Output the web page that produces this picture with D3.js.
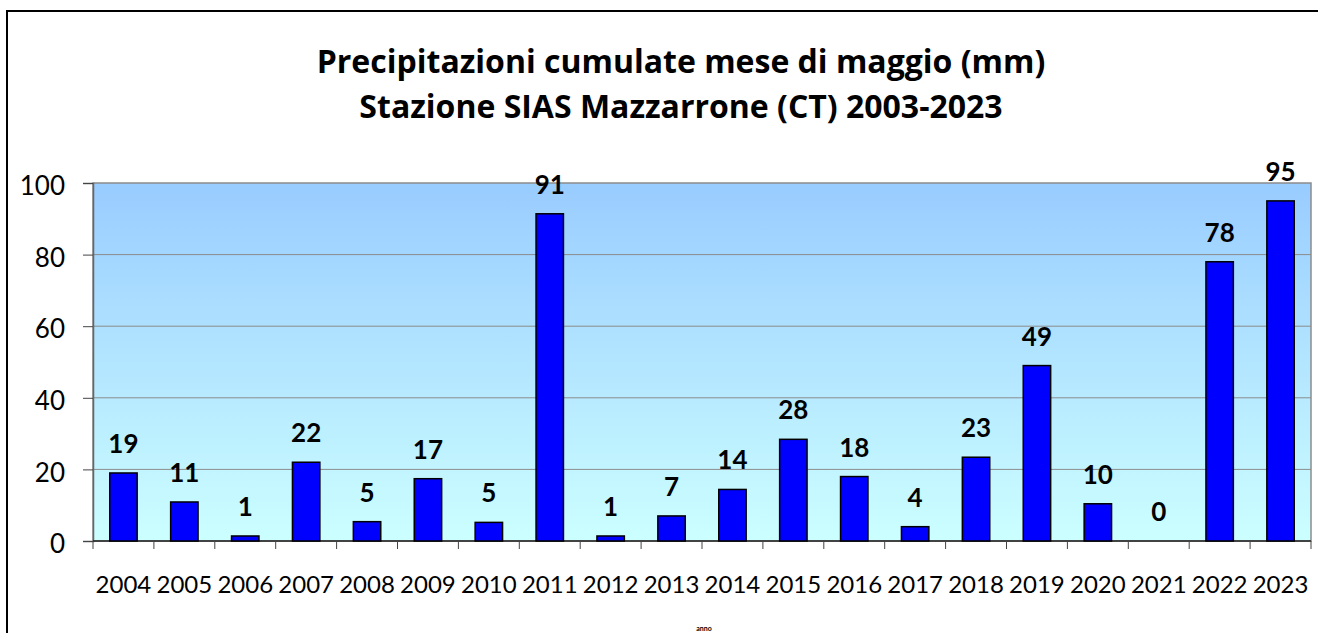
<!DOCTYPE html>
<html lang="it">
<head>
    <meta charset="utf-8">
    <title>Precipitazioni cumulate mese di maggio</title>
    <script src="https://d3js.org/d3.v7.min.js"></script>
    <style>
        body { margin: 0; background: #fff; }
        text { font-family: Lato, "Open Sans", sans-serif; }
    </style>
</head>
<body>
    <div id="chart"></div>
    <script>
        // Data
        const years = ["2004", "2005", "2006", "2007", "2008", "2009", "2010", "2011", "2012", "2013",
            "2014", "2015", "2016", "2017", "2018", "2019", "2020", "2021", "2022", "2023"];
        const values = [19, 10.9, 1.4, 22, 5.4, 17.4, 5.2, 91.4, 1.4, 7, 14.4, 28.4, 18, 4, 23.4, 49, 10.4, 0, 78, 95];
        const yTicks = [0, 20, 40, 60, 80, 100];
        const titleLines = ["Precipitazioni cumulate mese di maggio (mm)", "Stazione SIAS Mazzarrone (CT) 2003-2023"];

        const width = 1318, height = 633;
        const plot = { left: 93, right: 1311, top: 183, bottom: 541 };

        const svg = d3.select("#chart")
            .append("svg")
            .attr("width", width)
            .attr("height", height);

        // Gradient background
        const grad = svg.append("defs")
            .append("linearGradient")
            .attr("id", "bg")
            .attr("x1", 0).attr("y1", 0)
            .attr("x2", 0).attr("y2", 1);
        grad.append("stop").attr("offset", "0%").attr("stop-color", "#99ccff");
        grad.append("stop").attr("offset", "100%").attr("stop-color", "#ccffff");

        // Outer frame
        svg.append("rect")
            .attr("x", 7)
            .attr("y", 11)
            .attr("width", 1400)
            .attr("height", 700)
            .attr("fill", "none")
            .attr("stroke", "#000")
            .attr("stroke-width", 2);

        // Title
        svg.selectAll("text.title")
            .data(titleLines)
            .enter()
            .append("text")
            .attr("class", "title")
            .attr("x", 681)
            .attr("y", (d, i) => 73 + i * 45)
            .attr("text-anchor", "middle")
            .attr("font-weight", "bold")
            .style("font-family", "'Open Sans', sans-serif")
            .style("font-size", "32px")
            .text(d => d);

        // Scales
        const x = d3.scaleBand()
            .domain(years)
            .range([plot.left, plot.right])
            .paddingInner(0.55)
            .paddingOuter(0.275);

        const y = d3.scaleLinear()
            .domain([0, 100])
            .range([plot.bottom, plot.top]);

        // Plot area
        svg.append("rect")
            .attr("x", plot.left)
            .attr("y", plot.top)
            .attr("width", plot.right - plot.left)
            .attr("height", plot.bottom - plot.top)
            .attr("fill", "url(#bg)")
            .attr("stroke", "#8c8c8c")
            .attr("stroke-width", 1.5);

        // Gridlines
        svg.selectAll("line.grid")
            .data(yTicks.filter(d => d > 0 && d < 100))
            .enter()
            .append("line")
            .attr("class", "grid")
            .attr("x1", plot.left)
            .attr("x2", plot.right)
            .attr("y1", d => y(d))
            .attr("y2", d => y(d))
            .attr("stroke", "#8c8c8c")
            .attr("stroke-width", 1);

        // Y axis
        const yAxis = svg.append("g")
            .attr("transform", `translate(${plot.left},0)`)
            .call(d3.axisLeft(y).tickValues(yTicks).tickSize(10).tickPadding(18));
        yAxis.select(".domain").attr("stroke", "#666").attr("stroke-width", 1.5);
        yAxis.selectAll(".tick line").attr("stroke", "#444");
        yAxis.selectAll(".tick text")
            .attr("fill", "#000")
            .attr("dy", "0.45em")
            .style("font-size", "26px")
            .style("font-family", "Lato, sans-serif");

        // X axis
        svg.append("line")
            .attr("x1", plot.left)
            .attr("x2", plot.right)
            .attr("y1", plot.bottom)
            .attr("y2", plot.bottom)
            .attr("stroke", "#222")
            .attr("stroke-width", 1.5);
        svg.selectAll("line.xtick")
            .data(d3.range(years.length + 1))
            .enter()
            .append("line")
            .attr("class", "xtick")
            .attr("x1", i => plot.left + i * x.step())
            .attr("x2", i => plot.left + i * x.step())
            .attr("y1", plot.bottom)
            .attr("y2", plot.bottom + 8)
            .attr("stroke", "#444");
        svg.selectAll("text.xlabel")
            .data(years)
            .enter()
            .append("text")
            .attr("class", "xlabel")
            .attr("x", d => x(d) + x.bandwidth() / 2)
            .attr("y", 593)
            .attr("text-anchor", "middle")
            .style("font-size", "24px")
            .text(d => d);

        // Bars
        svg.selectAll("rect.bar")
            .data(values)
            .enter()
            .append("rect")
            .attr("class", "bar")
            .attr("x", (d, i) => x(years[i]))
            .attr("y", d => y(d))
            .attr("width", x.bandwidth())
            .attr("height", d => y(0) - y(d))
            .attr("fill", "#0000ff")
            .attr("stroke", d => d > 0 ? "#000" : "none")
            .attr("stroke-width", 1.5);

        // Value labels
        svg.selectAll("text.value")
            .data(values)
            .enter()
            .append("text")
            .attr("class", "value")
            .attr("x", (d, i) => x(years[i]) + x.bandwidth() / 2)
            .attr("y", d => y(d) - 20)
            .attr("text-anchor", "middle")
            .attr("font-weight", "bold")
            .style("font-size", "26px")
            .text(d => d3.format(".0f")(d));

        // Axis title (tiny)
        svg.append("text")
            .attr("x", 704)
            .attr("y", 631)
            .attr("text-anchor", "middle")
            .attr("font-weight", "bold")
            .style("font-size", "7px")
            .text("anno");
    </script>
</body>
</html>
